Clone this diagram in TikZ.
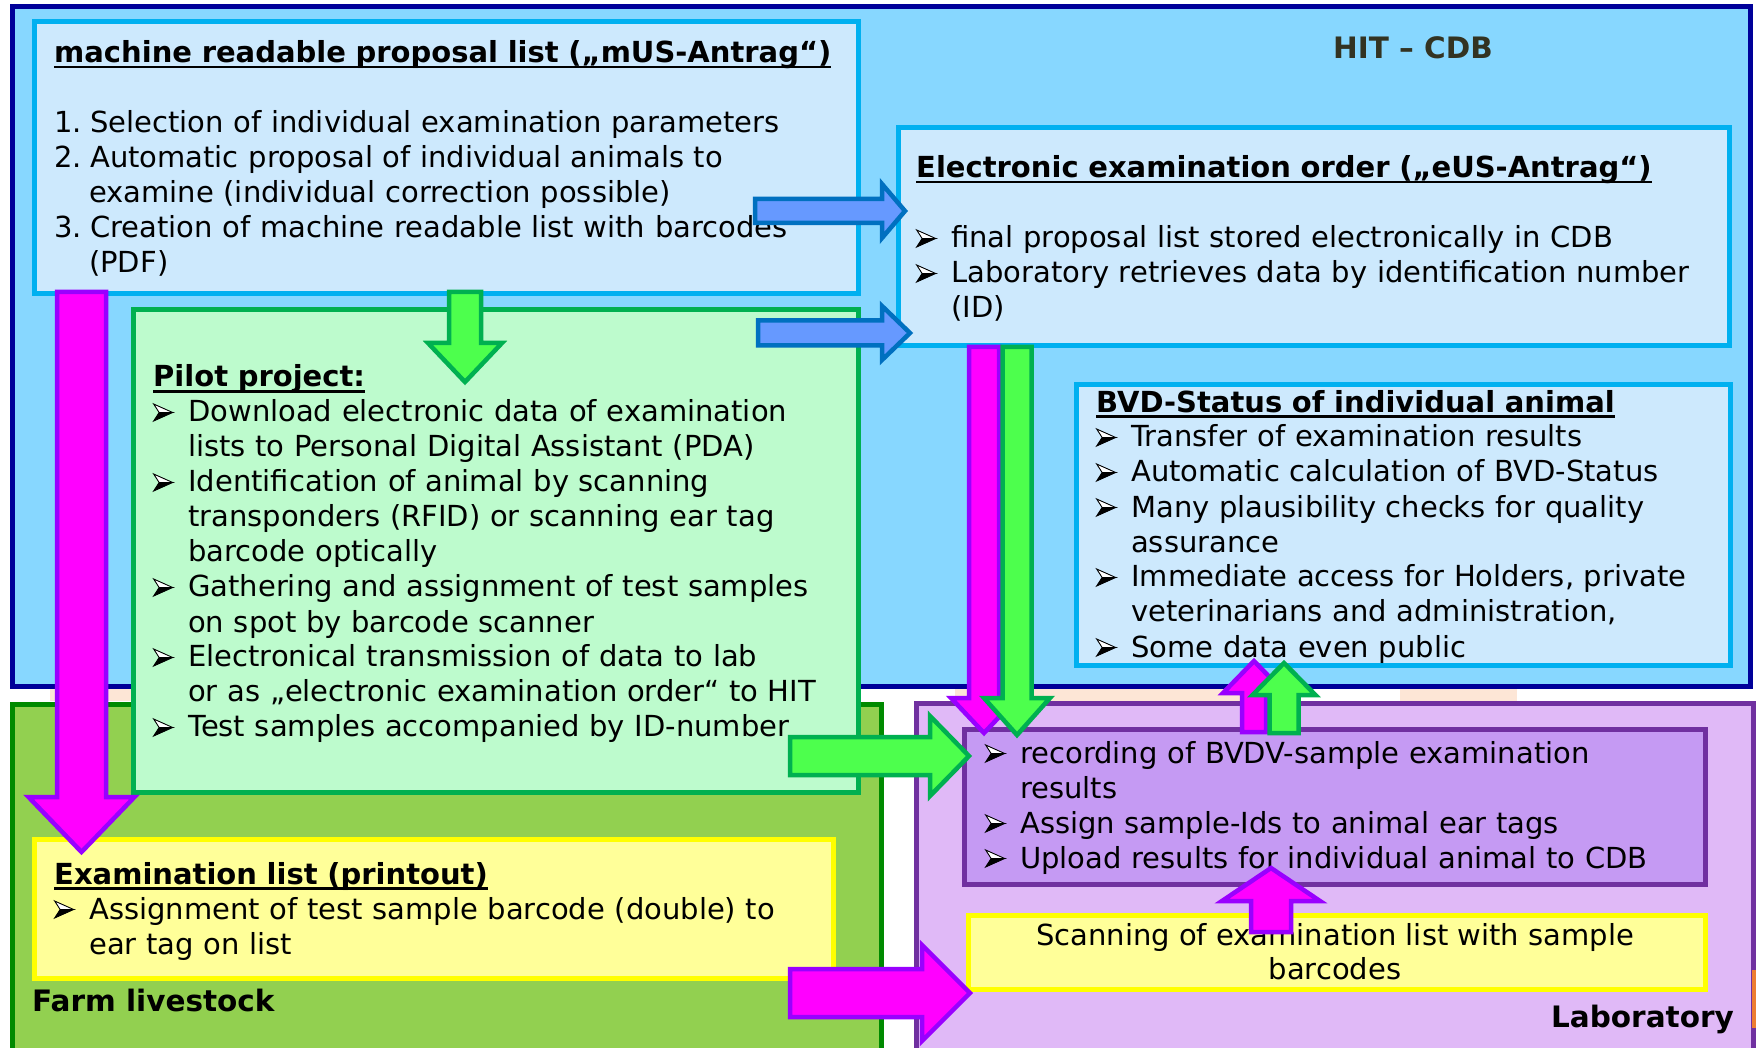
\documentclass[tikz,border=0pt]{standalone}
\usepackage{fontspec}
\setmainfont{DejaVu Sans}
\definecolor{hitfill}{HTML}{87D7FF}
\definecolor{hitline}{HTML}{000099}
\definecolor{lbfill}{HTML}{CDE9FD}
\definecolor{lbline}{HTML}{00B0F0}
\definecolor{pilfill}{HTML}{BDFBCD}
\definecolor{pilline}{HTML}{00B050}
\definecolor{farmfill}{HTML}{92D050}
\definecolor{farmline}{HTML}{008A00}
\definecolor{labfill}{HTML}{E0B9F7}
\definecolor{labline}{HTML}{7030A0}
\definecolor{resfill}{HTML}{C59AF3}
\definecolor{yelfill}{HTML}{FFFF99}
\definecolor{yelline}{HTML}{FFFF00}
\definecolor{magfill}{HTML}{FF00FF}
\definecolor{magline}{HTML}{9900FF}
\definecolor{grfill}{HTML}{4DFF4D}
\definecolor{blfill}{HTML}{6699FF}
\definecolor{blline}{HTML}{0070C0}
\definecolor{peach}{HTML}{FDE6D6}
\definecolor{hittext}{HTML}{333322}
\definecolor{orangeedge}{HTML}{ED7D31}
\newcommand\myul[1]{\setbox0\hbox{#1}\rlap{\rule[-5.5pt]{\wd0}{2.2pt}}\box0}
\newcommand\bulglyph{\tikz[baseline=0pt,x=1pt,y=1pt]{%
  \filldraw[fill=white,draw=black,line width=0.9pt,line join=miter] (1,18) -- (20,9.5) -- (6.5,9.5) -- cycle;
  \filldraw[fill=black,draw=black,line width=0.9pt,line join=miter] (6.5,9.5) -- (20,9.5) -- (1,1) -- cycle;}}
\newcommand\bul{\makebox[35pt][l]{\bulglyph}}
\newcommand\ind{\hspace*{35pt}}
\newcommand\num[1]{\makebox[36pt][l]{#1}}
\newcommand\rarr[7]{\draw[#1] (#2,#5-#6) -- (#3,#5-#6) -- (#3,#5-#7) -- (#4,#5) -- (#3,#5+#7) -- (#3,#5+#6) -- (#2,#5+#6) -- cycle;}
\newcommand\varr[7]{\draw[#1] (#2-#6,#3) -- (#2-#6,#4) -- (#2-#7,#4) -- (#2,#5) -- (#2+#7,#4) -- (#2+#6,#4) -- (#2+#6,#3) -- cycle;}
\tikzset{
  boxline/.style={line width=5pt, line join=miter},
  hitbox/.style={boxline, draw=hitline, fill=hitfill},
  lbbox/.style={boxline, draw=lbline, fill=lbfill},
  pilbox/.style={boxline, draw=pilline, fill=pilfill},
  farmbox/.style={boxline, draw=farmline, fill=farmfill},
  labbox/.style={boxline, draw=labline, fill=labfill},
  resbox/.style={boxline, draw=labline, fill=resfill},
  yelbox/.style={boxline, draw=yelline, fill=yelfill},
  txt/.style={anchor=base west, inner sep=0pt, text width=900pt, align=left, font=\fontsize{29}{35}\selectfont},
  lbl/.style={inner sep=0pt, font=\fontsize{29.5}{35}\selectfont\bfseries},
  magarr/.style={line width=4.5pt, line join=miter, draw=magline, fill=magfill},
  grarr/.style={line width=4.5pt, line join=miter, draw=pilline, fill=grfill},
  blarr/.style={line width=4.5pt, line join=miter, draw=blline, fill=blfill},
}
\begin{document}
\begin{tikzpicture}[x=1pt,y=-1pt]
\useasboundingbox (0,0) rectangle (1756,1048);
\clip (0,0) rectangle (1756,1048);
\fill[white] (0,0) rectangle (1756,1048);
% peach background pieces
\fill[peach] (50,689) rectangle (135,701);
\fill[peach] (955,689) rectangle (1250,701);
\fill[peach] (1400,689) rectangle (1517,701);
% areas
\draw[hitbox] (12,7) rectangle (1750,686);
\draw[farmbox] (12,704) rectangle (881,1070);
\draw[labbox] (916,703) rectangle (1753,1070);
% boxes
\draw[lbbox] (34.5,21.5) rectangle (858,294);
\draw[lbbox] (898,128) rectangle (1729,346);
\draw[lbbox] (1076,385) rectangle (1730,665);
\draw[pilbox] (133,310) rectangle (858,792);
\draw[yelbox] (34,839) rectangle (833,978);
\draw[resbox] (964,729) rectangle (1705,884);
\draw[yelbox] (968,915) rectangle (1705,989);
% labels
\node[lbl, anchor=base, text=hittext] (hit) at (1413,59) {HIT – CDB};
\node[lbl, anchor=base west] (farm) at (32,1011) {Farm livestock};
\node[lbl, anchor=base east] (lab) at (1734,1027) {Laboratory};
% texts
\node[txt] (mus) at (54,63) {\myul{\bfseries machine readable proposal list („mUS-Antrag“)}\\[35pt]
\num{1.}Selection of individual examination parameters\\
\num{2.}Automatic proposal of individual animals to\\
\ind examine (individual correction possible)\\
\num{3.}Creation of machine readable list with barcodes\\
\ind (PDF)};
\node[txt] (eus) at (916,178) {\myul{\bfseries Electronic examination order („eUS-Antrag“)}\\[35pt]
\bul final proposal list stored electronically in CDB\\
\bul Laboratory retrieves data by identification number\\
\ind (ID)};
\node[txt] (pilot) at (153,387) {\myul{\bfseries Pilot project:}\\
\bul Download electronic data of examination\\
\ind lists to Personal Digital Assistant (PDA)\\
\bul Identification of animal by scanning\\
\ind transponders (RFID) or scanning ear tag\\
\ind barcode optically\\
\bul Gathering and assignment of test samples\\
\ind on spot by barcode scanner\\
\bul Electronical transmission of data to lab\\
\ind or as „electronic examination order“ to HIT\\
\bul Test samples accompanied by ID-number};
\node[txt] (bvd) at (1096,412) {\myul{\bfseries BVD-Status of individual animal}\\
\bul Transfer of examination results\\
\bul Automatic calculation of BVD-Status\\
\bul Many plausibility checks for quality\\
\ind assurance\\
\bul Immediate access for Holders, private\\
\ind veterinarians and administration,\\
\bul Some data even public};
\node[txt] (exam) at (54,884) {\myul{\bfseries Examination list (printout)}\\
\bul Assignment of test sample barcode (double) to\\
\ind ear tag on list};
\node[txt] (res) at (985,763) {\bul recording of BVDV-sample examination\\
\ind results\\
\bul Assign sample-Ids to animal ear tags\\
\bul Upload results for individual animal to CDB};
\node[anchor=base, inner sep=0pt, align=center, font=\fontsize{29}{34}\selectfont] (scan) at (1335,979) {Scanning of examination list with sample\\barcodes};
% arrows
\rarr{blarr}{755}{882}{905}{211}{12}{27}
\rarr{blarr}{758}{882}{910}{333}{12.5}{27}
\rarr{grarr}{790}{930}{969}{756}{19}{40}
\rarr{magarr}{790}{922}{970}{993}{24}{48}
\varr{grarr}{465}{292}{343}{382}{16}{37}
\varr{magarr}{81.5}{292}{797}{852}{24.5}{53}
\varr{magarr}{984}{347}{698}{733}{15}{33}
\varr{grarr}{1017}{347}{698}{735}{14.5}{33}
\varr{magarr}{1254}{732}{693}{661}{12}{31}
\varr{grarr}{1284}{733}{695}{663}{14.5}{31.5}
\varr{magarr}{1271}{932}{901}{868}{20}{49}
\fill[orangeedge] (1752,970) rectangle (1756,1028);
\end{tikzpicture}
\end{document}
